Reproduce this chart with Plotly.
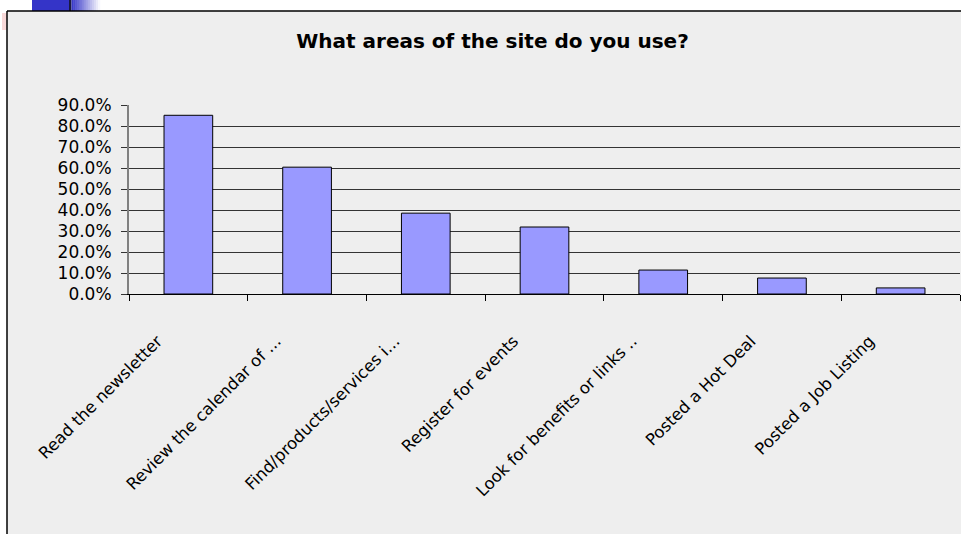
import plotly.graph_objects as go

categories = [
    "Read the newsletter",
    "Review the calendar of ...",
    "Find/products/services i...",
    "Register for events",
    "Look for benefits or links ..",
    "Posted a Hot Deal",
    "Posted a Job Listing",
]
values = [0.851, 0.604, 0.385, 0.319, 0.114, 0.076, 0.029]
y_ticks = [0.0, 0.1, 0.2, 0.3, 0.4, 0.5, 0.6, 0.7, 0.8, 0.9]
title_text = "What areas of the site do you use?"

W, H = 961, 534
PL, PR, PT, PB = 129, 960, 105, 294


def px(x):
    return (x - PL) / (PR - PL)


def py(y):
    return (PB - y) / (PB - PT)


fig = go.Figure(
    go.Bar(
        x=categories,
        y=values,
        width=0.41,
        marker=dict(color="#9999FF", line=dict(color="#000000", width=1)),
    )
)

shapes = []
# white outside area (top strip and left strip)
shapes.append(dict(type="rect", xref="paper", yref="paper", x0=px(-5), x1=px(970),
                   y0=py(11), y1=py(-5), fillcolor="white", line=dict(width=0), layer="below"))
shapes.append(dict(type="rect", xref="paper", yref="paper", x0=px(-5), x1=px(7),
                   y0=py(545), y1=py(11), fillcolor="white", line=dict(width=0), layer="below"))
# pink faint mark
shapes.append(dict(type="rect", xref="paper", yref="paper", x0=px(2), x1=px(6.5),
                   y0=py(30), y1=py(13), fillcolor="#f8d8d8", line=dict(width=0), layer="below"))
# blue decoration
shapes.append(dict(type="rect", xref="paper", yref="paper", x0=px(32), x1=px(69),
                   y0=py(11), y1=py(-5), fillcolor="#3434c8", line=dict(width=0), layer="below"))
shapes.append(dict(type="rect", xref="paper", yref="paper", x0=px(69), x1=px(71.5),
                   y0=py(11), y1=py(-5), fillcolor="#1a1a40", line=dict(width=0), layer="below"))
n = 14
for i in range(n):
    t = (i + 0.5) / n
    r = int(52 + (255 - 52) * t)
    g = int(52 + (255 - 52) * t)
    b = int(200 + (255 - 200) * t)
    x0 = 71.5 + (100 - 71.5) * i / n
    x1 = 71.5 + (100 - 71.5) * (i + 1) / n
    shapes.append(dict(type="rect", xref="paper", yref="paper", x0=px(x0), x1=px(x1 + 0.3),
                       y0=py(11), y1=py(-5), fillcolor=f"rgb({r},{g},{b})",
                       line=dict(width=0), layer="below"))
# frame lines
shapes.append(dict(type="line", xref="paper", yref="paper", x0=px(7), x1=px(7),
                   y0=py(545), y1=py(11), line=dict(color="black", width=1.5)))
shapes.append(dict(type="line", xref="paper", yref="paper", x0=px(7), x1=px(975),
                   y0=py(11), y1=py(11), line=dict(color="black", width=1.5)))

fig.update_layout(
    width=W,
    height=H,
    margin=dict(l=PL, r=W - PR, t=PT, b=H - PB, pad=0),
    paper_bgcolor="#EEEEEE",
    plot_bgcolor="#EEEEEE",
    showlegend=False,
    bargap=0.59,
    shapes=shapes,
    title=dict(
        text=title_text,
        x=492.5 / W,
        xanchor="center",
        y=1 - 40.5 / H,
        yanchor="middle",
        font=dict(family="DejaVu Sans", size=20, color="black", weight="bold"),
    ),
    font=dict(family="DejaVu Sans", color="black"),
)

fig.update_xaxes(
    type="category",
    showgrid=False,
    showline=True,
    linecolor="black",
    linewidth=1,
    ticks="outside",
    tickson="boundaries",
    ticklen=6,
    tickcolor="black",
    tickwidth=1,
    tickangle=-45,
    tickfont=dict(family="DejaVu Sans", size=16.5, color="black"),
    ticklabelstandoff=30,
    ticklabelshift=-31,
    zeroline=False,
)

fig.update_yaxes(
    range=[0, 0.9],
    tickvals=y_ticks,
    tickformat=".1%",
    showgrid=True,
    gridcolor="#333333",
    gridwidth=1,
    showline=True,
    linecolor="#808080",
    linewidth=2,
    ticks="outside",
    ticklen=6,
    tickcolor="#333333",
    tickwidth=1,
    tickfont=dict(family="DejaVu Sans", size=17, color="black"),
    ticklabelstandoff=6,
    zeroline=False,
)

fig.write_html(
    "out.html",
    config={"displayModeBar": False},
    post_script="document.body.style.margin='0px'; document.body.style.overflow='hidden';",
)
